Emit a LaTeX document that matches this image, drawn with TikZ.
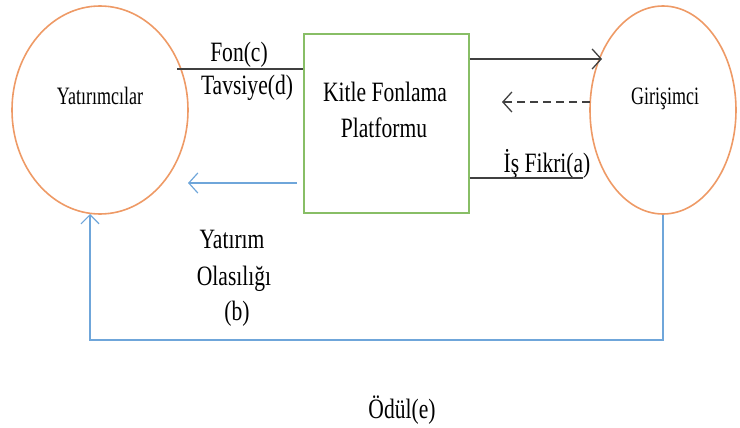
\documentclass[tikz,border=0pt]{standalone}
\usepackage{fontspec}
\usepackage{graphicx}
\setmainfont{Liberation Serif}
\usetikzlibrary{arrows.meta,shapes.geometric}
\definecolor{ellc}{HTML}{EE9A66}
\definecolor{boxc}{HTML}{88BE66}
\definecolor{bluec}{HTML}{6FA6DA}
\definecolor{darkc}{HTML}{404040}
\newcommand{\sqbig}[1]{\scalebox{0.77}[1]{#1}}
\newcommand{\sqsmall}[1]{\scalebox{0.72}[1]{#1}}
\begin{document}
\begin{tikzpicture}[x=1pt,y=-1pt,
  ellbox/.style={draw=ellc, line width=1.6pt, ellipse, inner sep=0pt},
  platbox/.style={draw=boxc, line width=1.3pt, rectangle, inner sep=0pt},
  bigtxt/.style={font=\fontsize{28}{36}\selectfont, text=black, inner sep=0pt, anchor=base},
  smalltxt/.style={font=\fontsize{25}{30}\selectfont, text=black, inner sep=0pt, anchor=base},
  darkline/.style={draw=darkc, line width=1.3pt},
  bluline/.style={draw=bluec, line width=1.2pt},
  barb/.style={-{Straight Barb[length=9pt,width=20pt,line width=1.3pt]}}
]
\useasboundingbox (0,0) rectangle (740,428);

% main shapes
\node[ellbox, minimum width=176pt, minimum height=208pt] (L) at (100,110) {};
\node[ellbox, minimum width=146pt, minimum height=208pt] (G) at (663,110) {};
\node[platbox, minimum width=165pt, minimum height=179pt] (P) at (386.5,123.5) {};

% texts
\node[smalltxt] (tL) at (100,105) {\sqsmall{Yatırımcılar}};
\node[smalltxt] (tG) at (665,105) {\sqsmall{Girişimci}};
\node[bigtxt] (tP1) at (385,102) {\sqbig{Kitle Fonlama}};
\node[bigtxt] (tP2) at (384,138) {\sqbig{Platformu}};
\node[bigtxt] (tFon) at (239,62) {\sqbig{Fon(c)}};
\node[bigtxt] (tTav) at (247,95) {\sqbig{Tavsiye(d)}};
\node[bigtxt] (tIs) at (547,172) {\sqbig{İş Fikri(a)}};
\node[bigtxt] (tY1) at (232,248) {\sqbig{Yatırım}};
\node[bigtxt] (tY2) at (234,285) {\sqbig{Olasılığı}};
\node[bigtxt] (tY3) at (237,320) {\sqbig{(b)}};
\node[bigtxt] (tOd) at (402,418) {\sqbig{Ödül(e)}};

% connector end points
\coordinate (fonL) at (177,69);
\coordinate (gTop) at (602,59);
\coordinate (gMid) at (590,102);
\coordinate (dEnd) at (502,102);
\coordinate (iEnd) at (583,178);
\coordinate (bStart) at (297,183);
\coordinate (bEnd) at (188,183);
\coordinate (loopR) at (665,340);
\coordinate (loopL) at (90,340);
\coordinate (lBot) at (90,214);

% connectors
\draw[darkline] (fonL) -- (P.west |- fonL);
\draw[darkline, barb] (P.east |- gTop) -- (gTop);
\draw[darkline, barb, dash pattern=on 8pt off 5pt] (gMid) -- (dEnd);
\draw[darkline] (P.east |- iEnd) -- (iEnd);
\draw[bluline, -{Straight Barb[length=9pt,width=20pt,line width=1.2pt]}] (bStart) -- (bEnd);
\draw[bluline, -{Straight Barb[length=9pt,width=18pt,line width=1.2pt]}] (G.south) |- (loopL) -- (lBot);
\end{tikzpicture}
\end{document}
